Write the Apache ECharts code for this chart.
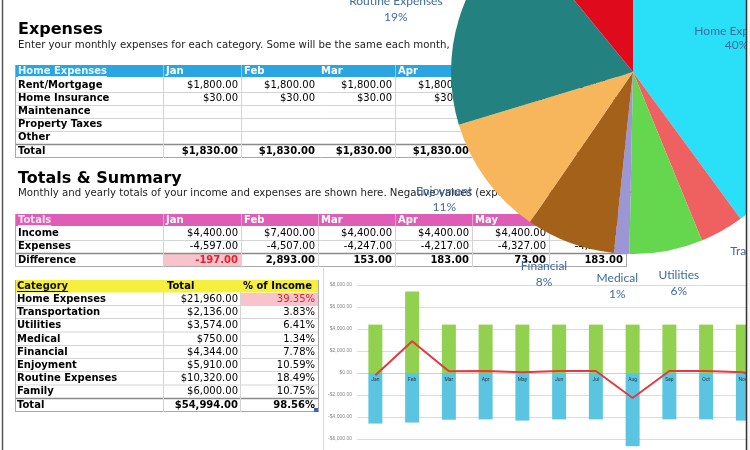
<!DOCTYPE html>
<html><head><meta charset="utf-8">
<script src="https://cdn.jsdelivr.net/npm/echarts@6/dist/echarts.min.js"></script>
<style>html,body{margin:0;padding:0;background:#fff}#c{width:750px;height:450px}</style>
</head><body><div id="c"></div>
<script>
// ---------- data ----------
const months = ['Jan','Feb','Mar','Apr','May','Jun','Jul','Aug','Sep','Oct','Nov','Dec'];
const homeRowLabels = ['Rent/Mortgage','Home Insurance','Maintenance','Property Taxes','Other'];
const rentValues = [1800,1800,1800,1800,1800,1800];
const insuranceValues = [30,30,30,30,30,30];
const homeTotals = [1830,1830,1830,1830,1830,1830];
const income = [4400,7400,4400,4400,4400,4400,4400,4400,4400,4400,4400,4400];
const expenses = [-4597,-4507,-4247,-4217,-4327,-4217,-4217,-6667,-4217,-4217,-4327,-5237];
const difference = [-197,2893,153,183,73,183,183,-2267,183,183,73,-837];
const categories = ['Home Expenses','Transportation','Utilities','Medical','Financial','Enjoyment','Routine Expenses','Family'];
const categoryTotals = [21960,2136,3574,750,4344,5910,10320,6000];
const percentOfIncome = [39.35,3.83,6.41,1.34,7.78,10.59,18.49,10.75];
const grandTotal = 54994;
const grandPercent = 98.56;

// ---------- styles ----------
const FONT = '"DejaVu Sans", Verdana, sans-serif';
const pieColors = ['#2ae0f8','#ef6060','#64d74f','#9d96d4','#a4611a','#f8b65c','#23827f','#df0a1c'];
const labelBlue = '#3f6ba2';

const mctx = document.createElement('canvas').getContext('2d');
function tw(s, size, bold){ mctx.font = (bold?'bold ':'') + size + 'px ' + FONT; return mctx.measureText(s).width; }
function money(v){ return '$' + v.toLocaleString('en-US',{minimumFractionDigits:2,maximumFractionDigits:2}); }
function num(v){ return v.toLocaleString('en-US',{minimumFractionDigits:2,maximumFractionDigits:2}); }

const els = [];
function T(x, y, s, o){
  o = o || {};
  const a = o.align || 'left';
  els.push({type:'text', x:x, y:y, z:o.z||2, silent:true, style:{
    text:s, fill:o.fill||'#000', fontFamily:FONT, fontSize:o.size||10,
    fontWeight:o.bold?'bold':'normal', align:a, textAlign:a,
    verticalAlign:'middle', textVerticalAlign:'middle'}});
}
function R(x, y, w, h, fill, z){ els.push({type:'rect', z:z||0, silent:true, shape:{x:x,y:y,width:w,height:h}, style:{fill:fill}}); }
function L(x1, y1, x2, y2, stroke, lw, z){ els.push({type:'line', z:z||1, silent:true, shape:{x1:x1,y1:y1,x2:x2,y2:y2}, style:{stroke:stroke, lineWidth:lw||1}}); }
function U(x, y, s, fill){ T(x, y, s, {bold:true, fill:fill}); L(x, y+5.5, x+tw(s,10,true), y+5.5, fill, 1, 2); }

const C = [15,163,241,318,395,472,549,626];
const LIGHT = '#d4d4d4', MID = '#a8a8a8', DARK = '#8a8a8a';

// titles
T(18, 30, 'Expenses', {size:16, bold:true});
T(18, 45, 'Enter your monthly expenses for each category. Some will be the same each month,', {size:10.2, fill:'#222'});
T(18, 178.5, 'Totals & Summary', {size:16, bold:true});
T(18, 193.5, 'Monthly and yearly totals of your income and expenses are shown here. Negative values (expenses exceed income) are in red.', {size:10.2, fill:'#222'});

// ----- table 1 -----
R(15, 65, 611, 12, '#29a5e1');
U(18, 71, 'Home Expenses', '#e4f5ff');
[1,2,4,5,6].forEach(i => L(C[i]+0.5, 65, C[i]+0.5, 77, '#7fcdf0'));
for (let j=0;j<6;j++) T(C[j+1]+3, 71, months[j], {bold:true, fill:'#fff'});
const r1 = [85.5, 98.5, 111.5, 124.5, 137.5];
homeRowLabels.forEach((s,i) => T(18, r1[i], s, {bold:true}));
rentValues.forEach((v,j) => T(C[j+2]-3, r1[0], money(v), {align:'right'}));
insuranceValues.forEach((v,j) => T(C[j+2]-3, r1[1], money(v), {align:'right'}));
T(18, 151.5, 'Total', {bold:true});
homeTotals.forEach((v,j) => T(C[j+2]-3, 151.5, money(v), {align:'right', bold:true}));
[92.5,105.5,118.5,131.5].forEach(y => L(15, y, 626, y, LIGHT));
L(15, 144.5, 626, 144.5, DARK, 1.5);
L(15, 157.5, 626, 157.5, MID);
L(15.5, 65, 15.5, 158, MID);
[1,2,4,5,6].forEach(i => L(C[i]+0.5, 77, C[i]+0.5, 158, LIGHT));

// ----- table 2 -----
R(15, 214, 611, 12, '#de5db7');
U(18, 220, 'Totals', '#fbe2f3');
[1,2,3,4,5,6].forEach(i => L(C[i]+0.5, 214, C[i]+0.5, 226, '#ee9fd6'));
for (let j=0;j<6;j++) T(C[j+1]+3, 220, months[j], {bold:true, fill:'#fff'});
R(163, 254, 78, 12, '#f8c3cb');
T(18, 233.5, 'Income', {bold:true});
T(18, 246.5, 'Expenses', {bold:true});
T(18, 260, 'Difference', {bold:true});
for (let j=0;j<6;j++){
  T(C[j+2]-3, 233.5, money(income[j]), {align:'right'});
  T(C[j+2]-3, 246.5, num(expenses[j]), {align:'right'});
  T(C[j+2]-3, 260, num(difference[j]), {align:'right', bold:true, fill: difference[j]<0 ? '#e3222d' : '#000'});
}
L(15, 240.5, 626, 240.5, LIGHT);
L(15, 253.5, 626, 253.5, DARK, 1.5);
L(15, 266.5, 626, 266.5, MID);
L(15.5, 214, 15.5, 267, MID);
[1,2,3,4,5,6].forEach(i => L(C[i]+0.5, 226, C[i]+0.5, 267, LIGHT));
L(626.5, 226, 626.5, 267, MID);

// ----- table 3 -----
const C3 = [15,163,240,318];
R(15, 280, 303, 12.5, '#f6ef3e');
U(17, 286, 'Category', '#111');
T(167, 286, 'Total', {bold:true});
T(243, 286, '% of Income', {bold:true});
const r3 = [299, 312, 325.5, 339, 352, 365, 378.5, 391.5];
R(240, 293, 78, 12, '#f8c3cb');
categories.forEach((s,i) => {
  T(17, r3[i], s, {bold:true});
  T(C3[2]-2, r3[i], money(categoryTotals[i]), {align:'right'});
  T(C3[3]-3, r3[i], percentOfIncome[i].toFixed(2)+'%', {align:'right', fill: i===0 ? '#e3222d' : '#000'});
});
T(17, 405, 'Total', {bold:true});
T(C3[2]-2, 405, money(grandTotal), {align:'right', bold:true});
T(C3[3]-3, 405, grandPercent.toFixed(2)+'%', {align:'right', bold:true});
[305.5,318.5,332,345.5,358.5,371.5,385].forEach(y => L(15, y, 318, y, LIGHT));
L(15, 398.5, 318, 398.5, DARK, 1.5);
L(15, 411.5, 318, 411.5, MID);
L(15.5, 280, 15.5, 412, MID);
L(318.5, 280, 318.5, 412, MID);
[1,2].forEach(i => L(C3[i]+0.5, 292, C3[i]+0.5, 412, LIGHT));
R(314, 408, 4, 4, '#3d5fb5', 3);

// chart panel border and page borders
L(323.5, 268, 323.5, 450, '#d6d6d6');
L(2.5, 0, 2.5, 450, '#555', 1.5, 50);
R(746, 0, 4, 450, '#f6f6f6', 50);
L(746.5, 0, 746.5, 450, '#333', 1.5, 51);

// pie label angle helper
const sumTotals = categoryTotals.reduce((a,b)=>a+b,0);
let acc = 0;
const midAngles = categoryTotals.map(v => { const m = (acc + v/2)/sumTotals*2*Math.PI; acc += v; return m; });

const pieData = categories.map((n,i) => ({name:n, value:categoryTotals[i], itemStyle:{color:pieColors[i]}}));
const labelStyle = {position:'inside', formatter:'{b}\n{d}%', color:labelBlue, fontFamily:'Lato', fontSize:12, lineHeight:16};

const chart = echarts.init(document.getElementById('c'), null, {renderer:'canvas'});
chart.setOption({
  animation:false,
  grid:{left:357, right:-48, top:285, bottom:-11, containLabel:false, outerBoundsMode:'none'},
  xAxis:{type:'category', data:months, axisTick:{show:false},
    axisLine:{show:true, onZero:true, lineStyle:{color:'#d0d0d0'}},
    axisLabel:{show:false}},
  yAxis:{type:'value', min:-8000, max:8000, interval:2000,
    axisLine:{show:false}, axisTick:{show:false},
    splitLine:{lineStyle:{color:'#dcdcdc'}},
    axisLabel:{fontSize:5, color:'#888', margin:5,
      formatter: v => (v<0?'-':'') + '$' + Math.abs(v).toLocaleString('en-US',{minimumFractionDigits:2})}},
  graphic:{elements:els},
  series:[
    {type:'bar', data:income, barWidth:14, itemStyle:{color:'#92d050'}, z:2, silent:true},
    {type:'bar', data:expenses, barWidth:14, barGap:'-100%', itemStyle:{color:'#5bc5e1'}, z:2, silent:true,
      label:{show:true, position:'insideTop', distance:4, formatter:p => p.name, fontSize:5, color:'#2a3a40', fontFamily:'Roboto'}},
    {type:'line', data:difference, symbol:'none', lineStyle:{color:'#e23a3e', width:2}, z:3, silent:true},
    {type:'pie', center:[633,72], radius:182, startAngle:90, clockwise:true, z:5, silent:true,
      label:{show:false}, labelLine:{show:false}, data:pieData, itemStyle:{borderWidth:0}},
    {type:'pie', center:[633,72], radius:[30,182], startAngle:90, clockwise:true, z:6, silent:true,
      percentPrecision:0, avoidLabelOverlap:false, labelLine:{show:false},
      itemStyle:{color:'rgba(0,0,0,0)', borderWidth:0},
      label:Object.assign({}, labelStyle, {lineHeight:14}),
      data:categories.map((n,i) => ({name:n, value:categoryTotals[i], label:{show:i===0}}))},
    {type:'pie', center:[633,72], radius:[182,210], startAngle:90, clockwise:true, z:6, silent:true,
      percentPrecision:0, avoidLabelOverlap:false, labelLine:{show:false},
      itemStyle:{color:'rgba(0,0,0,0)', borderWidth:0},
      label:labelStyle,
      labelLayout: function(p){
        const th = midAngles[p.dataIndex];
        const w = p.labelRect.width, h = p.labelRect.height;
        const sx = Math.max(-1, Math.min(1, 2.5*Math.sin(th)));
        return {dx: sx*w/2, dy: -Math.cos(th)*h/2};
      },
      data:categories.map((n,i) => ({name:n, value:categoryTotals[i], label:{show:i!==0}}))}
  ]
});
</script></body></html>
